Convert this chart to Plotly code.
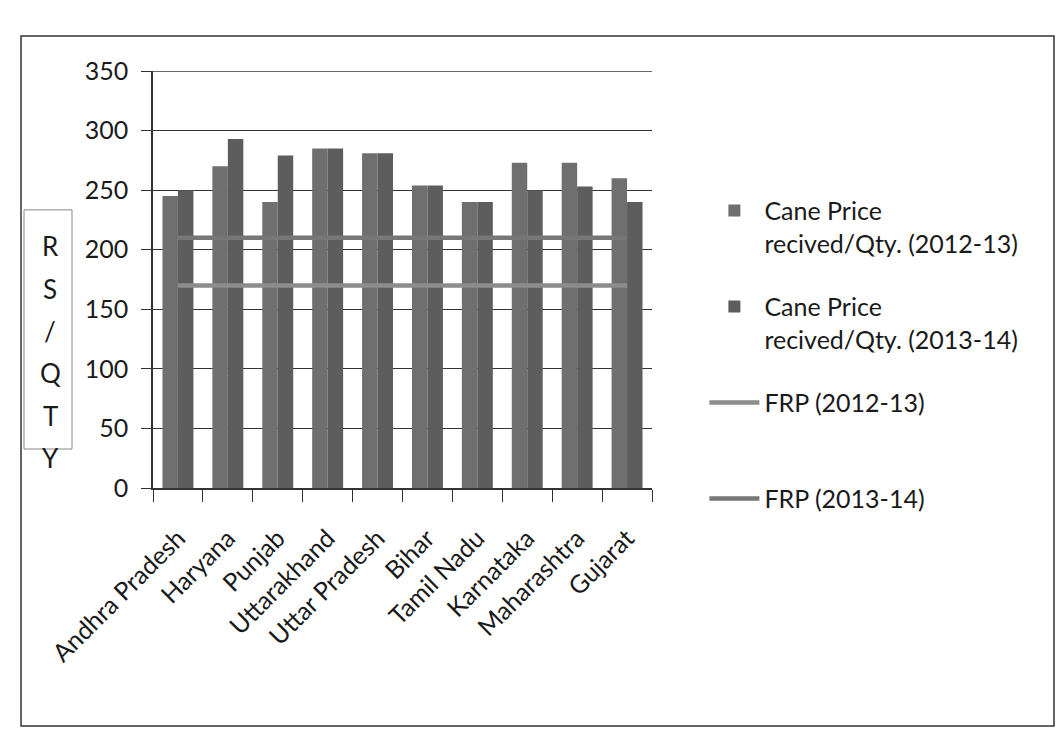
import plotly.graph_objects as go

states = ["Andhra Pradesh", "Haryana", "Punjab", "Uttarakhand", "Uttar Pradesh",
          "Bihar", "Tamil Nadu", "Karnataka", "Maharashtra", "Gujarat"]
price_2012_13 = [245, 270, 240, 285, 281, 254, 240, 273, 273, 260]
price_2013_14 = [250, 293, 279, 285, 281, 254, 240, 250, 253, 240]
frp_2012_13 = [170] * len(states)
frp_2013_14 = [210] * len(states)
y_title = "RS/QTY"
y_max = 350

FONT = "Lato, 'Open Sans', sans-serif"
INK = "#1a1a1a"
GRID = "#333"

fig = go.Figure()
fig.add_trace(go.Bar(x=states, y=price_2012_13, name="Cane Price<br>recived/Qty. (2012-13)",
                     marker=dict(color="#6f6f6f", line=dict(width=0)), legendgroup="a"))
fig.add_trace(go.Bar(x=states, y=price_2013_14, name="Cane Price<br>recived/Qty. (2013-14)",
                     marker=dict(color="#5d5d5d", line=dict(width=0)), legendgroup="b"))
fig.add_trace(go.Scatter(x=states, y=frp_2012_13, name="FRP (2012-13)<br> ", mode="lines",
                         line=dict(color="#8c8c8c", width=4.5), legendgroup="c"))
fig.add_trace(go.Scatter(x=states, y=frp_2013_14, name="FRP (2013-14)<br> ", mode="lines",
                         line=dict(color="#777777", width=4.5), legendgroup="d"))

fig.update_layout(
    width=1064, height=753,
    margin=dict(l=153, r=412, t=71, b=265),
    paper_bgcolor="white", plot_bgcolor="white",
    font=dict(family=FONT, color=INK, size=24),
    barmode="group", bargap=0.38, bargroupgap=0,
    showlegend=True,
    legend=dict(x=1.105, y=0.72, xanchor="left", yanchor="top", valign="top",
                font=dict(size=25, family=FONT, color=INK),
                tracegroupgap=28, itemwidth=50, bgcolor="rgba(0,0,0,0)"),
    xaxis=dict(showline=True, linecolor=GRID, linewidth=1.5, ticks="outside",
               tickson="boundaries", ticklen=12, tickcolor=GRID, tickwidth=1.3,
               tickangle=-45, tickfont=dict(size=25, family=FONT, color=INK),
               ticklabelstandoff=24, showgrid=False),
    yaxis=dict(range=[0, y_max], dtick=50, showline=True, linecolor=GRID, linewidth=1.5,
               ticks="outside", ticklen=10, tickcolor=GRID, tickwidth=1.3, showgrid=True,
               gridcolor=GRID, gridwidth=1.4, zeroline=False,
               tickfont=dict(size=25, family=FONT, color=INK), ticklabelstandoff=8),
)

# Top gridline at the axis maximum
fig.add_shape(type="line", xref="paper", yref="y", x0=0, x1=1, y0=y_max, y1=y_max,
              line=dict(color=GRID, width=1.4))

# Boxed axis title, one letter per row
fig.add_shape(type="rect", xref="paper", yref="paper", x0=-0.2585, x1=-0.1623,
              y0=0.0935, y1=0.667, line=dict(color="#888", width=1), fillcolor="white")
for i, ch in enumerate(y_title):
    fig.add_annotation(text=ch, xref="paper", yref="paper", x=-0.2064, y=0.580,
                       yshift=-42.4 * i, xanchor="center", yanchor="middle",
                       showarrow=False, font=dict(size=26, family=FONT, color=INK))

# Outer chart frame
fig.add_shape(type="rect", xref="paper", yref="paper", x0=-0.2645, x1=1.8056,
              y0=-0.5707, y1=1.084, line=dict(color=GRID, width=1.5),
              fillcolor="rgba(0,0,0,0)", layer="below")

fig.write_html("out.html")
